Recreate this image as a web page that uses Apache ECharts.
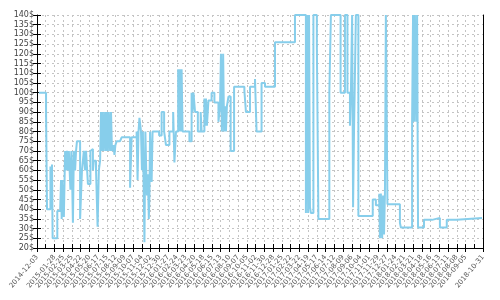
<!DOCTYPE html>
<html><head><meta charset="utf-8">
<script src="https://cdn.jsdelivr.net/npm/echarts@6/dist/echarts.min.js"></script>
<style>html,body{margin:0;padding:0;background:#fff}#c{width:500px;height:300px}</style>
</head><body><div id="c"></div>
<script>
const tickLabels = ['2014-12-03','2014-12-31','2015-01-28','2015-02-25','2015-03-25','2015-04-22','2015-05-20','2015-06-17','2015-07-15','2015-08-12','2015-09-09','2015-10-07','2015-11-04','2015-12-02','2015-12-30','2016-01-27','2016-02-24','2016-03-23','2016-04-20','2016-05-18','2016-06-15','2016-07-13','2016-08-10','2016-09-07','2016-10-05','2016-11-02','2016-11-30','2016-12-28','2017-01-25','2017-02-22','2017-03-22','2017-04-19','2017-05-17','2017-06-14','2017-07-12','2017-08-09','2017-09-06','2017-10-04','2017-11-01','2017-11-29','2017-12-27','2018-01-24','2018-02-21','2018-03-21','2018-04-18','2018-05-16','2018-06-13','2018-07-11','2018-08-08','2018-09-05','2018-10-03','2018-10-31'];
// days since 2014-12-03
const days = [6,29,32,43,46,48,50,65,74,77,79,81,83,86,90,93,96,99,102,107,110,112,115,118,122,125,128,138,144,150,154,157,163,171,176,179,182,189,194,198,202,205,208,211,214,218,221,224,227,230,234,237,240,245,248,251,255,266,271,298,303,319,322,325,328,333,336,339,344,347,350,352,355,358,360,362,367,370,391,399,407,413,424,436,440,445,452,456,458,461,463,466,488,495,498,501,506,515,524,527,536,538,541,544,549,559,568,581,586,589,592,596,599,602,605,608,613,620,631,664,669,682,698,703,719,730,762,826,861,865,868,871,874,877,885,896,901,936,941,972,986,994,1002,1005,1009,1012,1015,1021,1029,1075,1085,1096,1098,1101,1105,1108,1111,1114,1117,1122,1162,1165,1201,1204,1207,1210,1214,1217,1220,1239,1265,1290,1312,1344,1425];
const prices = [100,90,40,62,40,63,25,39,40,55,35,55,40,36,70,60,70,60,70,50,70,60,33,70,60,70,75,35,60,70,60,70,53,70,71,60,65,60,31,60,65,90,70,90,70,90,70,90,70,90,70,90,70,73,68,73,75,76,77,51,77,80,55,80,87,80,60,80,23,80,58,47,58,35,47,80,54,80,78,90,80,73,80,90,64,80,112,80,112,80,112,80,75,100,90,100,90,80,90,80,97,83,97,83,96,100,95,85,93,120,80,120,80,93,80,93,98,70,103,101,90,103,107,80,105,103,126,140,38,140,38,140,41,38,140,125,35,100,140,100,140,100,83,100,140,41,80,140,36.5,45,42,48,25,48,25,47,27,48,140,42.5,33,30.5,85,140,85,140,85,140,30.5,34.5,35.5,30.5,34.5,35.5,35.5];

const yMin = 20, yMax = 140, yStep = 5;
const xMax = 1428, xStep = 28;

const chart = echarts.init(document.getElementById('c'), null, {renderer: 'canvas'});
const gridLine = {show: true, lineStyle: {color: '#c4c4c4', type: [2, 3], width: 1}};
const tick = (inside) => ({show: true, inside: inside, length: 4, lineStyle: {color: '#000', width: 1}});
chart.setOption({
  animation: false,
  backgroundColor: '#fff',
  grid: {left: 37, right: 17, top: 15, bottom: 52, containLabel: false, outerBoundsMode: 'none'},
  xAxis: [{
    type: 'value', min: 0, max: xMax, interval: xStep,
    axisLine: {show: true, lineStyle: {color: '#000', width: 1}},
    axisTick: tick(false),
    splitLine: gridLine,
    axisLabel: {show: true, rotate: 50, fontSize: 7, color: '#555', margin: 8, fontFamily: 'DejaVu Sans',
      showMinLabel: true, showMaxLabel: true,
      formatter: v => tickLabels[Math.round(v / xStep)] || ''}
  }, {
    type: 'value', min: 0, max: xMax, interval: xStep, position: 'bottom', offset: 0,
    axisLine: {show: false}, axisTick: tick(true), splitLine: {show: false}, axisLabel: {show: false}
  }],
  yAxis: [{
    type: 'value', min: yMin, max: yMax, interval: yStep, position: 'left',
    axisLine: {show: true, lineStyle: {color: '#000', width: 1}},
    axisTick: tick(false),
    splitLine: gridLine,
    axisLabel: {fontSize: 8, color: '#444', margin: 3, fontFamily: 'DejaVu Sans', formatter: '{value}$'}
  }, {
    type: 'value', min: yMin, max: yMax, interval: yStep, position: 'left', offset: 0,
    axisLine: {show: false}, axisTick: tick(true), splitLine: {show: false}, axisLabel: {show: false}
  }, {
    type: 'value', min: yMin, max: yMax, interval: yStep, position: 'right', offset: 0,
    axisLine: {show: true, lineStyle: {color: '#000', width: 1}}, axisTick: {show: false},
    splitLine: {show: false}, axisLabel: {show: false}
  }],
  series: [{
    type: 'line', step: 'end', showSymbol: false, xAxisIndex: 0, yAxisIndex: 0,
    lineStyle: {color: '#87CEEB', width: 2},
    itemStyle: {color: '#87CEEB'},
    data: days.map((d, i) => [d, prices[i]])
  }]
});
</script>
</body></html>
